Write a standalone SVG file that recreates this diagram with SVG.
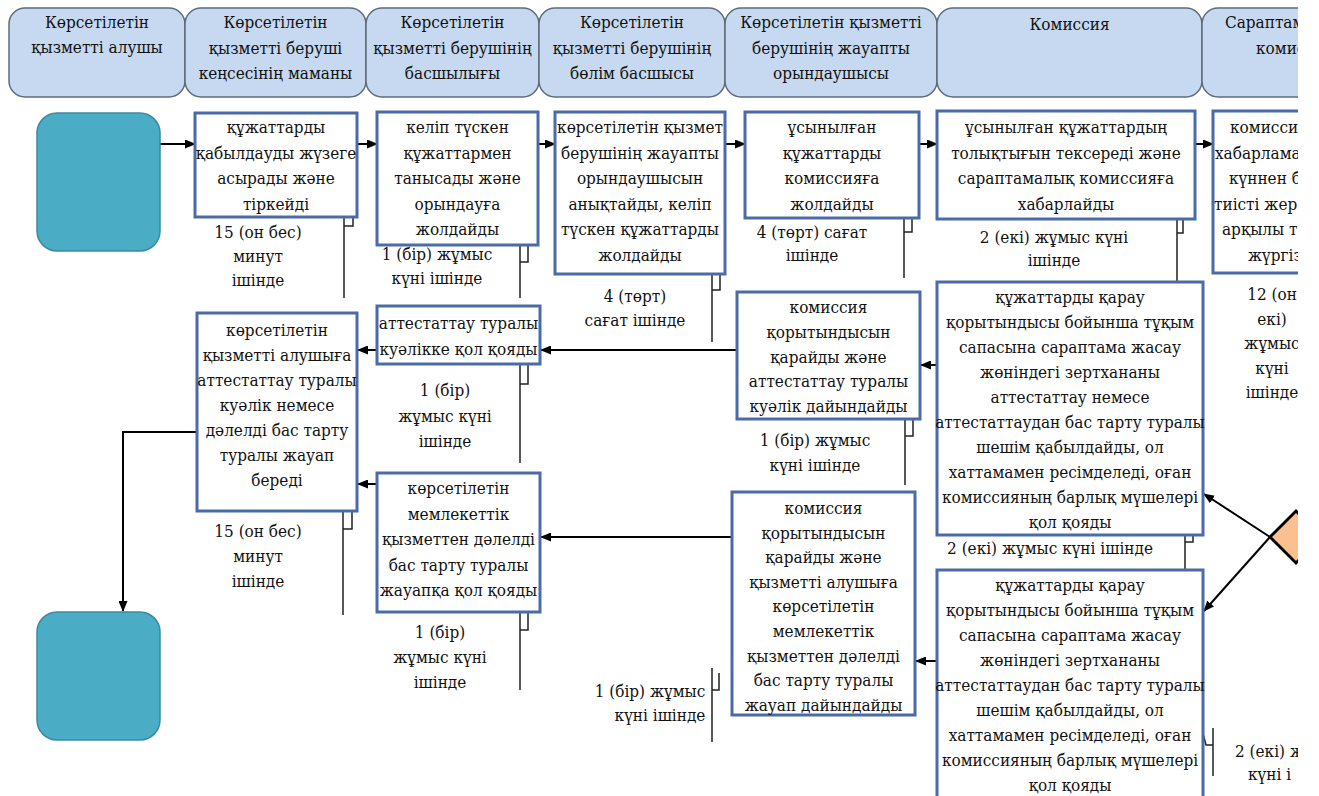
<svg xmlns="http://www.w3.org/2000/svg" width="1319" height="796" viewBox="0 0 1319 796">
<style>
.hdr{fill:#c6d9f0;stroke:#5d6b7c;stroke-width:1.5}
.box{fill:#fff;stroke:#4a6ba8;stroke-width:3}
.term{fill:#4bacc6;stroke:#3b8aa1;stroke-width:1.5}
text{font-family:'DejaVu Serif Condensed','DejaVu Serif',serif;font-stretch:condensed;font-size:17px;fill:#111}
.t{text-anchor:middle}
.ts{text-anchor:start}
.cn{fill:none;stroke:#000;stroke-width:2;marker-end:url(#ah)}
.ann{fill:none;stroke:#222;stroke-width:1.5}
</style>
<defs>
<marker id="ah" markerUnits="userSpaceOnUse" markerWidth="11" markerHeight="9" refX="10" refY="4.5" orient="auto"><path d="M0,0 L11,4.5 L0,9 z" fill="#000"/></marker>
<clipPath id="cut"><rect x="0" y="0" width="1298" height="796"/></clipPath>
</defs>
<rect width="1319" height="796" fill="#fff"/>
<g clip-path="url(#cut)">
<g id="lanes">
<g id="h1"><rect class="hdr" x="9" y="8" width="176" height="89" rx="16"/><text class="t" x="97" y="28">Көрсетілетін<tspan x="97" dy="25">қызметті алушы</tspan></text></g>
<g id="h2"><rect class="hdr" x="185" y="8" width="181" height="89" rx="16"/><text class="t" x="275.5" y="28">Көрсетілетін<tspan x="275.5" dy="25.5">қызметті беруші</tspan><tspan x="275.5" dy="25.5">кеңсесінің маманы</tspan></text></g>
<g id="h3"><rect class="hdr" x="366" y="8" width="173" height="89" rx="16"/><text class="t" x="452.5" y="28">Көрсетілетін<tspan x="452.5" dy="25.5">қызметті берушінің</tspan><tspan x="452.5" dy="25.5">басшылығы</tspan></text></g>
<g id="h4"><rect class="hdr" x="539" y="8" width="186" height="89" rx="16"/><text class="t" x="632" y="28">Көрсетілетін<tspan x="632" dy="25.5">қызметті берушінің</tspan><tspan x="632" dy="25.5">бөлім басшысы</tspan></text></g>
<g id="h5"><rect class="hdr" x="725" y="8" width="212" height="89" rx="16"/><text class="t" x="831" y="28">Көрсетілетін қызметті<tspan x="831" dy="25.5">берушінің жауапты</tspan><tspan x="831" dy="25.5">орындаушысы</tspan></text></g>
<g id="h6"><rect class="hdr" x="937" y="8" width="265" height="89" rx="16"/><text class="t" x="1069.5" y="30">Комиссия</text></g>
<g id="h7"><rect class="hdr" x="1202" y="8" width="140" height="89" rx="16"/><text class="ts" x="1225" y="28">Сараптам<tspan x="1256" dy="25.5">комисс</tspan></text></g>
</g>
<g id="connectors">
<path class="cn" d="M160,144 H195"/>
<path class="cn" d="M357,144 H377"/>
<path class="cn" d="M538,144 H555"/>
<path class="cn" d="M725,144 H745"/>
<path class="cn" d="M918,144 H937"/>
<path class="cn" d="M1195,144 H1213"/>
<path class="cn" d="M737,350 H541"/>
<path class="cn" d="M377,350 H358"/>
<path class="cn" d="M937,365 H921"/>
<path class="cn" d="M732,537 H541"/>
<path class="cn" d="M377,484 H358"/>
<path class="cn" d="M937,661 H916"/>
<path class="cn" d="M197,432 H123 V611"/>
<path class="cn" d="M1270,537 L1204,494"/>
<path class="cn" d="M1270,537 L1204,611"/>
<path class="ann" d="M353,207 V226 H344 M344,207 V298"/>
<path class="ann" d="M528,235 V262 H520 M520,235 V298"/>
<path class="ann" d="M720,264 V290 H712 M712,264 V342"/>
<path class="ann" d="M912,211 V232 H904 M904,211 V278"/>
<path class="ann" d="M1183,212 V233 H1177 M1177,212 V282"/>
<path class="ann" d="M528,362 V384 H520 M520,362 V463"/>
<path class="ann" d="M913,414 V436 H905 M905,414 V485"/>
<path class="ann" d="M1193,525 V542 H1185 M1185,525 V570"/>
<path class="ann" d="M352,507 V529 H343 M343,507 V615"/>
<path class="ann" d="M528,607 V630 H520 M520,607 V690"/>
<path class="ann" d="M712,690 H719 V673 M712,668 V742"/>
<path class="ann" d="M1200,722 L1206,745 H1213 M1213,728 V776"/>
</g>
<g id="start"><rect class="term" x="37" y="113" width="123" height="138" rx="20"/></g>
<g id="end"><rect class="term" x="37" y="612" width="123" height="128" rx="20"/></g>
<g id="b1"><rect class="box" x="195" y="113" width="162" height="104"/><text class="t" x="276" y="133">құжаттарды<tspan x="276" dy="25.5">қабылдауды жүзеге</tspan><tspan x="276" dy="25.5">асырады және</tspan><tspan x="276" dy="25.5">тіркейді</tspan></text></g>
<g id="b2"><rect class="box" x="377" y="112" width="161" height="133"/><text class="t" x="457.5" y="133">келіп түскен<tspan x="457.5" dy="25.5">құжаттармен</tspan><tspan x="457.5" dy="25.5">танысады және</tspan><tspan x="457.5" dy="25.5">орындауға</tspan><tspan x="457.5" dy="25.5">жолдайды</tspan></text></g>
<g id="b3"><rect class="box" x="555" y="112" width="170" height="162"/><text class="t" x="640" y="133">көрсетілетін қызмет<tspan x="640" dy="25.5">берушінің жауапты</tspan><tspan x="640" dy="25.5">орындаушысын</tspan><tspan x="640" dy="25.5">анықтайды, келіп</tspan><tspan x="640" dy="25.5">түскен құжаттарды</tspan><tspan x="640" dy="25.5">жолдайды</tspan></text></g>
<g id="b4"><rect class="box" x="745" y="112" width="174" height="106"/><text class="t" x="832" y="133">ұсынылған<tspan x="832" dy="25.5">құжаттарды</tspan><tspan x="832" dy="25.5">комиссияға</tspan><tspan x="832" dy="25.5">жолдайды</tspan></text></g>
<g id="b5"><rect class="box" x="937" y="111" width="258" height="108"/><text class="t" x="1066" y="133">ұсынылған құжаттардың<tspan x="1066" dy="25.5">толықтығын тексереді және</tspan><tspan x="1066" dy="25.5">сараптамалық комиссияға</tspan><tspan x="1066" dy="25.5">хабарлайды</tspan></text></g>
<g id="b6"><rect class="box" x="1213" y="111" width="130" height="162"/><text class="ts" x="1230" y="133">комисси<tspan x="1215" dy="25.5">хабарлама</tspan><tspan x="1229" dy="25.5">күннен б</tspan><tspan x="1214" dy="25.5">тиісті жер</tspan><tspan x="1222" dy="25.5">арқылы т</tspan><tspan x="1248" dy="25.5">жүргіз</tspan></text></g>
<g id="c1"><rect class="box" x="377" y="306" width="163" height="58"/><text class="t" x="458.5" y="329">аттестаттау туралы<tspan x="458.5" dy="26">куәлікке қол қояды</tspan></text></g>
<g id="c2"><rect class="box" x="737" y="292" width="183" height="127"/><text class="t" x="828.5" y="313">комиссия<tspan x="828.5" dy="24.8">қорытындысын</tspan><tspan x="828.5" dy="24.8">қарайды және</tspan><tspan x="828.5" dy="24.8">аттестаттау туралы</tspan><tspan x="828.5" dy="24.8">куәлік дайындайды</tspan></text></g>
<g id="c3"><rect class="box" x="937" y="282" width="266" height="253"/><text class="t" x="1070" y="303">құжаттарды қарау<tspan x="1070" dy="25">қорытындысы бойынша тұқым</tspan><tspan x="1070" dy="25">сапасына сараптама жасау</tspan><tspan x="1070" dy="25">жөніндегі зертхананы</tspan><tspan x="1070" dy="25">аттестаттау немесе</tspan><tspan x="1070" dy="25">аттестаттаудан бас тарту туралы</tspan><tspan x="1070" dy="25">шешім қабылдайды, ол</tspan><tspan x="1070" dy="25">хаттамамен ресімделеді, оған</tspan><tspan x="1070" dy="25">комиссияның барлық мүшелері</tspan><tspan x="1070" dy="25">қол қояды</tspan></text></g>
<g id="r1"><rect class="box" x="197" y="313" width="160" height="198"/><text class="t" x="277" y="336">көрсетілетін<tspan x="277" dy="25">қызметті алушыға</tspan><tspan x="277" dy="25">аттестаттау туралы</tspan><tspan x="277" dy="25">куәлік немесе</tspan><tspan x="277" dy="25">дәлелді бас тарту</tspan><tspan x="277" dy="25">туралы жауап</tspan><tspan x="277" dy="25">береді</tspan></text></g>
<g id="d1"><rect class="box" x="377" y="473" width="163" height="139"/><text class="t" x="458.5" y="494">көрсетілетін<tspan x="458.5" dy="25.5">мемлекеттік</tspan><tspan x="458.5" dy="25.5">қызметтен дәлелді</tspan><tspan x="458.5" dy="25.5">бас тарту туралы</tspan><tspan x="458.5" dy="25.5">жауапқа қол қояды</tspan></text></g>
<g id="d2"><rect class="box" x="732" y="492" width="183" height="223"/><text class="t" x="823.5" y="514">комиссия<tspan x="823.5" dy="24.6">қорытындысын</tspan><tspan x="823.5" dy="24.6">қарайды және</tspan><tspan x="823.5" dy="24.6">қызметті алушыға</tspan><tspan x="823.5" dy="24.6">көрсетілетін</tspan><tspan x="823.5" dy="24.6">мемлекеттік</tspan><tspan x="823.5" dy="24.6">қызметтен дәлелді</tspan><tspan x="823.5" dy="24.6">бас тарту туралы</tspan><tspan x="823.5" dy="24.6">жауап дайындайды</tspan></text></g>
<g id="d3"><rect class="box" x="937" y="570" width="266" height="240"/><text class="t" x="1070" y="591">құжаттарды қарау<tspan x="1070" dy="25">қорытындысы бойынша тұқым</tspan><tspan x="1070" dy="25">сапасына сараптама жасау</tspan><tspan x="1070" dy="25">жөніндегі зертхананы</tspan><tspan x="1070" dy="25">аттестаттаудан бас тарту туралы</tspan><tspan x="1070" dy="25">шешім қабылдайды, ол</tspan><tspan x="1070" dy="25">хаттамамен ресімделеді, оған</tspan><tspan x="1070" dy="25">комиссияның барлық мүшелері</tspan><tspan x="1070" dy="25">қол қояды</tspan></text></g>
<g id="decision"><polygon points="1270,537 1296,511 1322,537 1296,563" fill="#fac090" stroke="#000" stroke-width="3"/></g>
<g id="durations">
<text class="t" x="258" y="238">15 (он бес)<tspan x="258" dy="24">минут</tspan><tspan x="258" dy="24">ішінде</tspan></text>
<text class="t" x="437" y="260">1 (бір) жұмыс<tspan x="437" dy="24">күні ішінде</tspan></text>
<text class="t" x="635" y="302">4 (төрт)<tspan x="635" dy="24">сағат ішінде</tspan></text>
<text class="t" x="812" y="238">4 (төрт) сағат<tspan x="812" dy="23">ішінде</tspan></text>
<text class="t" x="1054" y="243">2 (екі) жұмыс күні<tspan x="1054" dy="23">ішінде</tspan></text>
<text class="t" x="1272" y="300">12 (он<tspan x="1272" dy="24.5">екі)</tspan><tspan x="1272" dy="24.5">жұмыс</tspan><tspan x="1272" dy="24.5">күні</tspan><tspan x="1272" dy="24.5">ішінде</tspan></text>
<text class="t" x="445" y="396">1 (бір)<tspan x="445" dy="25.5">жұмыс күні</tspan><tspan x="445" dy="25.5">ішінде</tspan></text>
<text class="t" x="815" y="446">1 (бір) жұмыс<tspan x="815" dy="25">күні ішінде</tspan></text>
<text class="t" x="1050" y="554">2 (екі) жұмыс күні ішінде</text>
<text class="t" x="258" y="537">15 (он бес)<tspan x="258" dy="25">минут</tspan><tspan x="258" dy="25">ішінде</tspan></text>
<text class="t" x="440" y="638">1 (бір)<tspan x="440" dy="25">жұмыс күні</tspan><tspan x="440" dy="25">ішінде</tspan></text>
<text class="t" x="650" y="697">1 (бір) жұмыс<tspan x="660" dy="24">күні ішінде</tspan></text>
<text class="ts" x="1235" y="757">2 (екі) ж<tspan x="1248" dy="23">күні і</tspan></text>
</g>
</g>
</svg>
